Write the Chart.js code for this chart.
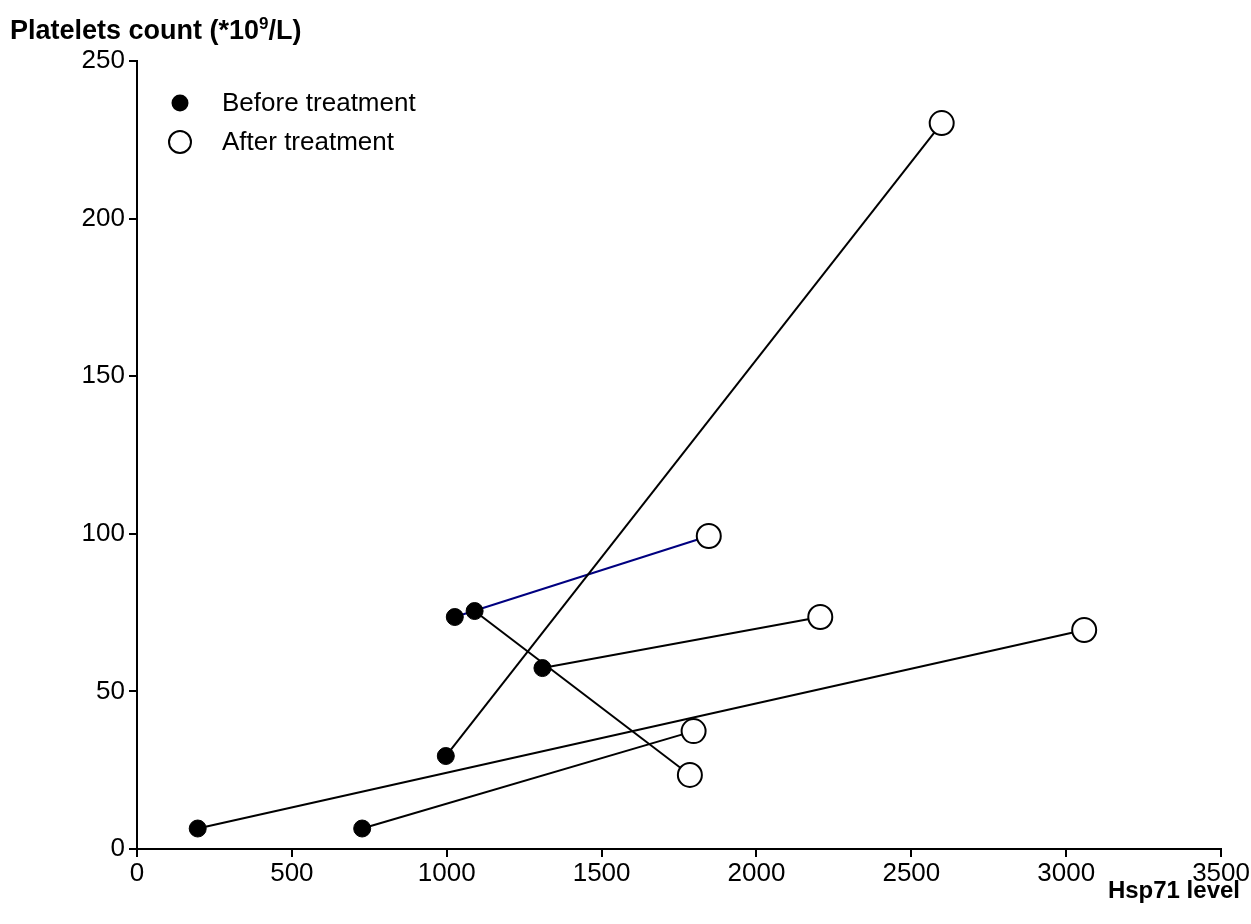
<!DOCTYPE html>
<html>
<head>
<meta charset="utf-8">
<script src="https://cdn.jsdelivr.net/npm/chart.js@4/dist/chart.umd.min.js"></script>
<style>
  html, body { margin: 0; padding: 0; background: #fff; }
  #wrap { width: 1251px; height: 924px; }
</style>
</head>
<body>
<div id="wrap"><canvas id="plt"></canvas></div>
<script>
// Hsp71 level / platelets, one pair per patient
var beforeX = [196, 727, 997, 1026, 1090, 1309];
var beforeY = [6.5, 6.5, 29.5, 73.6, 75.5, 57.4];
var afterX = [3058, 1797, 2598, 1846, 1785, 2206];
var afterY = [69.5, 37.4, 230.3, 99.3, 23.5, 73.6];
var pairColors = ["#000", "#000", "#000", "#000080", "#000", "#000"];
var xTicks = [0, 500, 1000, 1500, 2000, 2500, 3000, 3500];
var yTicks = [0, 50, 100, 150, 200, 250];

var FONT = "'Liberation Sans', Arial, Helvetica, sans-serif";

var datasets = [];
for (var i = 0; i < beforeX.length; i++) {
	datasets.push({
		label: "pair" + i,
		data: [{x: beforeX[i], y: beforeY[i]}, {x: afterX[i], y: afterY[i]}],
		showLine: true,
		borderColor: pairColors[i],
		borderWidth: 2,
		pointRadius: 0,
		order: 3
	});
}
datasets.push({
	label: "Before treatment",
	data: beforeX.map(function (v, i) { return {x: v, y: beforeY[i]}; }),
	pointRadius: 8.5,
	backgroundColor: "#000",
	borderColor: "#000",
	borderWidth: 1,
	order: 1
});
datasets.push({
	label: "After treatment",
	data: afterX.map(function (v, i) { return {x: v, y: afterY[i]}; }),
	pointRadius: 12,
	backgroundColor: "#fff",
	borderColor: "#000",
	borderWidth: 2,
	order: 2
});

// legend and axis titles drawn by hand (they sit in odd places)
var extras = {
	id: "extras",
	afterDraw: function (chart) {
		var c = chart.ctx;
		c.save();
		c.fillStyle = "#000";
		c.textBaseline = "middle";
		c.font = "26px " + FONT;
		c.beginPath();
		c.arc(180, 103, 8.5, 0, Math.PI * 2);
		c.fill();
		c.fillText("Before treatment", 222, 104);
		c.beginPath();
		c.arc(180, 142, 11, 0, Math.PI * 2);
		c.lineWidth = 2;
		c.strokeStyle = "#000";
		c.fillStyle = "#fff";
		c.fill();
		c.stroke();
		c.fillStyle = "#000";
		c.fillText("After treatment", 222, 143);

		c.textBaseline = "alphabetic";
		c.font = "bold 27px " + FONT;
		var x = 10, y = 39;
		var s1 = "Platelets count (*10";
		c.fillText(s1, x, y);
		x += c.measureText(s1).width;
		c.font = "bold 17px " + FONT;
		c.fillText("9", x, y - 10);
		x += c.measureText("9").width;
		c.font = "bold 27px " + FONT;
		c.fillText("/L)", x, y);

		c.font = "bold 24px " + FONT;
		c.textAlign = "right";
		c.fillText("Hsp71 level", 1240, 898);
		c.restore();
	}
};

new Chart(document.getElementById("plt").getContext("2d"), {
	type: "scatter",
	data: {datasets: datasets},
	plugins: [extras],
	options: {
		responsive: true,
		maintainAspectRatio: false,
		animation: false,
		layout: {padding: {left: 0, top: 61, right: 26, bottom: 0}},
		plugins: {legend: {display: false}, tooltip: {enabled: false}},
		scales: {
			x: {
				type: "linear",
				min: 0, max: 3500,
				afterBuildTicks: function (s) { s.ticks = xTicks.map(function (v) { return {value: v}; }); },
				afterFit: function (s) { s.height = 75; },
				grid: {drawOnChartArea: false, drawTicks: true, tickLength: 8, color: "#000", lineWidth: 2},
				border: {display: true, color: "#000", width: 2},
				ticks: {color: "#000", font: {family: FONT, size: 26}, padding: 1, maxRotation: 0,
					callback: function (v) { return String(v); }}
			},
			y: {
				type: "linear",
				min: 0, max: 250,
				afterBuildTicks: function (s) { s.ticks = yTicks.map(function (v) { return {value: v}; }); },
				afterFit: function (s) { s.width = 137; },
				grid: {drawOnChartArea: false, drawTicks: true, tickLength: 8, color: "#000", lineWidth: 2},
				border: {display: true, color: "#000", width: 2},
				ticks: {color: "#000", font: {family: FONT, size: 26}, padding: 4,
					callback: function (v) { return String(v); }}
			}
		}
	}
});
</script>
</body>
</html>
